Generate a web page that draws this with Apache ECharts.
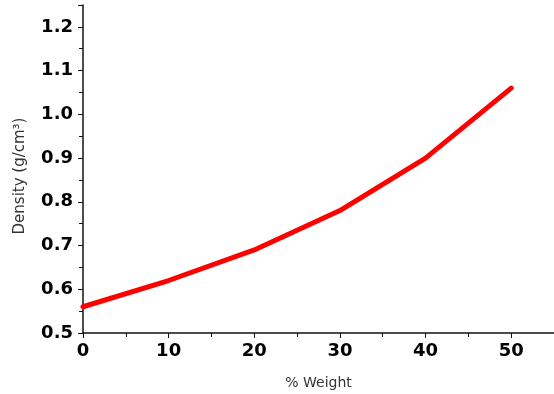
<!DOCTYPE html>
<html><head><meta charset="utf-8">
<script src="https://cdn.jsdelivr.net/npm/echarts@6/dist/echarts.min.js"></script>
<style>html,body{margin:0;padding:0;background:#fff}#c{width:554px;height:394px}</style>
</head><body><div id="c"></div>
<script>
const weights = [0, 10, 20, 30, 40, 50];
const density = [0.56, 0.62, 0.69, 0.78, 0.90, 1.06];
const xName = '% Weight';
const yName = 'Density (g/cm³)';

const chart = echarts.init(document.getElementById('c'));
const lbl = {color:'#000', fontWeight:'bold', fontSize:18, fontFamily:'DejaVu Sans'};
chart.setOption({
  animation:false,
  grid:{left:83, right:0, top:5, bottom:61, containLabel:false, outerBoundsMode:'none'},
  xAxis:{type:'value', min:0, max:55, interval:10,
    name:xName, nameLocation:'middle', nameGap:43,
    nameTextStyle:{color:'#333', fontSize:14, fontFamily:'DejaVu Sans'},
    axisLine:{lineStyle:{color:'#111', width:1.5}},
    axisTick:{show:true, length:5, inside:false, lineStyle:{color:'#111'}},
    minorTick:{show:true, splitNumber:2, length:4, lineStyle:{color:'#111'}},
    splitLine:{show:false},
    axisLabel:Object.assign({margin:9, formatter:v=> v>50?'':v}, lbl)},
  yAxis:{type:'value', min:0.5, max:1.25, interval:0.1,
    name:yName, nameLocation:'middle', nameGap:55, nameRotate:90,
    nameTextStyle:{color:'#333', fontSize:15, fontFamily:'DejaVu Sans', padding:[0,14,0,0]},
    axisLine:{show:true, lineStyle:{color:'#111', width:1.5}},
    axisTick:{show:true, length:5, lineStyle:{color:'#111'}},
    minorTick:{show:true, splitNumber:2, length:4, lineStyle:{color:'#111'}},
    splitLine:{show:false},
    axisLabel:Object.assign({margin:10, formatter:v=> v>1.21?'':v.toFixed(1)}, lbl)},
  series:[{type:'line', data:weights.map((w,i)=>[w,density[i]]),
    showSymbol:false, symbol:'none',
    lineStyle:{color:'#ff0000', width:5, cap:'round', join:'round'}}]
});
</script></body></html>
